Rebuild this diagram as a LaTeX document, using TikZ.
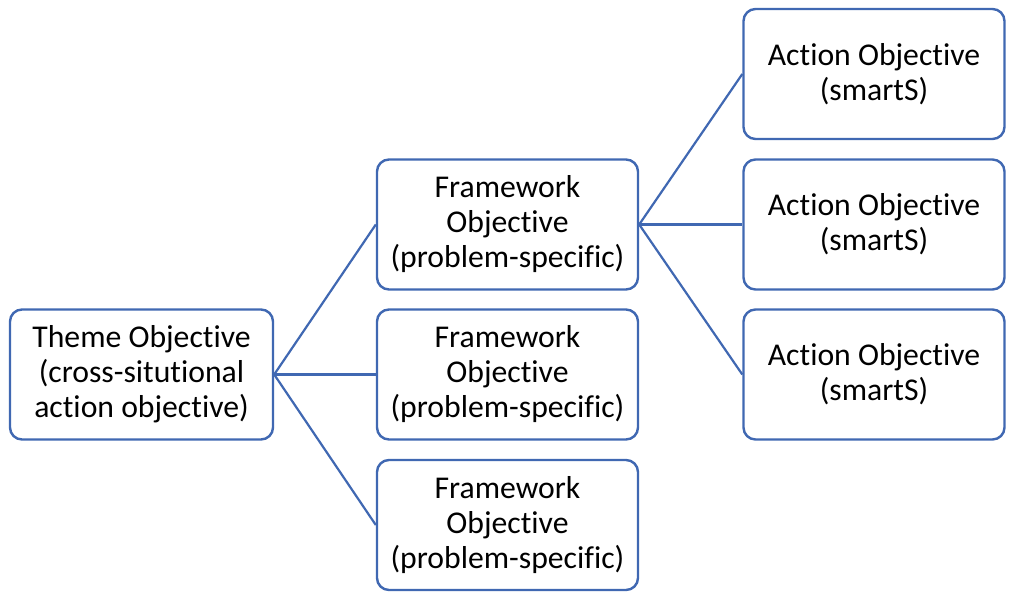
\documentclass[tikz,border=0pt]{standalone}
\usepackage{fontspec}
\setmainfont{Carlito}[RawFeature=-liga]
\definecolor{boxblue}{HTML}{4068B2}
\begin{document}
\begin{tikzpicture}[x=1pt,y=-1pt,
  objbox/.style={draw=boxblue, line width=2.4pt, rounded corners=12pt, fill=white,
    minimum width=261pt, minimum height=130pt, align=center, inner sep=0pt,
    font=\fontsize{31.7}{35}\selectfont},
  link/.style={draw=boxblue, line width=2.2pt}]
\useasboundingbox (0,0) rectangle (1009,597);
% level 1
\node[objbox, minimum width=263pt] (theme) at (141.5,374.5) {Theme Objective\\(cross-situtional\\action objective)};
% level 2
\node[objbox] (fw1) at (507.5,224.5) {Framework\\Objective\\(problem-specific)};
\node[objbox] (fw2) at (507.5,374.5) {Framework\\Objective\\(problem-specific)};
\node[objbox] (fw3) at (507.5,525) {Framework\\Objective\\(problem-specific)};
% level 3
\node[objbox] (act1) at (874,74) {Action Objective\\(smartS)};
\node[objbox] (act2) at (874,224.5) {Action Objective\\(smartS)};
\node[objbox] (act3) at (874,374.5) {Action Objective\\(smartS)};
% connectors
\foreach \t in {fw1,fw2,fw3} \draw[link] (theme.east) -- (\t.west);
\foreach \t in {act1,act2,act3} \draw[link] (fw1.east) -- (\t.west);
\end{tikzpicture}
\end{document}
